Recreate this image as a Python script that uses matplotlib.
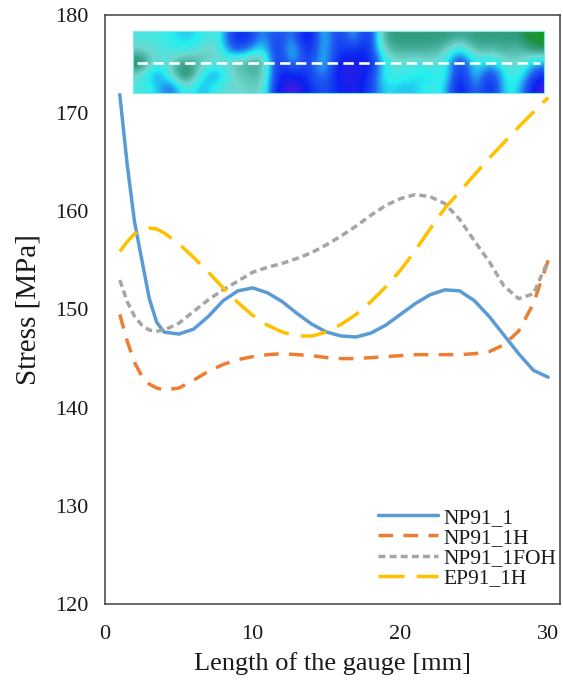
import matplotlib
matplotlib.use('Agg')
import matplotlib.pyplot as plt
from matplotlib.colors import LinearSegmentedColormap
import numpy as np

plt.rcParams['font.family'] = ['Liberation Serif', 'DejaVu Serif']

# ── data (gauge position in mm, stress in MPa)
gauge_mm = [1, 1.5, 2, 2.5, 3, 3.5, 4, 5, 6, 7, 8, 9, 10, 11, 12, 13, 14, 15,
            16, 17, 18, 19, 20, 21, 22, 23, 24, 25, 26, 27, 28, 29, 30]

np91_1 = [171.9, 164.8, 158.9, 155.0, 151.1, 148.7, 147.7, 147.5, 148.0, 149.3,
          150.9, 151.9, 152.2, 151.7, 150.8, 149.6, 148.5, 147.7, 147.3,
          147.2, 147.6, 148.4, 149.5, 150.6, 151.5, 152.0, 151.9, 150.9,
          149.3, 147.4, 145.5, 143.8, 143.1]

np91_1h = [149.5, 146.8, 144.6, 143.2, 142.4, 142.0, 141.8, 142.0, 142.8, 143.7,
           144.4, 144.9, 145.2, 145.4, 145.5, 145.4, 145.3, 145.1, 145.0,
           145.0, 145.1, 145.2, 145.3, 145.4, 145.4, 145.4, 145.4, 145.5,
           145.7, 146.4, 147.8, 150.6, 155.0]

np91_1foh = [153.0, 150.8, 149.3, 148.4, 147.9, 147.8, 147.9, 148.6, 149.8, 151.0,
             152.0, 152.9, 153.8, 154.3, 154.7, 155.2, 155.8, 156.6, 157.5,
             158.5, 159.6, 160.6, 161.3, 161.7, 161.5, 160.8, 159.2, 157.0,
             154.9, 152.4, 151.1, 151.6, 155.0]

ep91_1h = [155.9, 156.9, 157.7, 158.1, 158.3, 158.2, 157.8, 156.7, 155.3, 153.8,
           152.2, 150.7, 149.4, 148.4, 147.7, 147.3, 147.3, 147.7, 148.5,
           149.5, 150.8, 152.3, 154.0, 156.0, 158.2, 160.3, 162.0, 163.7,
           165.4, 167.0, 168.6, 170.1, 171.6]

series_names = ['NP91_1', 'NP91_1H', 'NP91_1FOH', 'EP91_1H']

# stress map of the gauge (rows top->bottom, columns along the gauge);
# 0 = green, 0.5 = cyan, 1 = blue/violet
stress_map = np.array([
    [0.50, 0.50, 0.55, 0.60, 0.55, 0.45, 0.80, 0.85, 0.60, 0.80, 0.60, 1.00, 0.50, 0.85,
     0.55, 0.90, 0.30, 0.30, 0.30, 0.30, 0.30, 0.35, 0.30, 0.30, 0.30, 0.30, 0.05],
    [0.45, 0.48, 0.50, 0.55, 0.45, 0.42, 0.75, 0.70, 0.50, 0.85, 0.50, 0.90, 0.55, 0.80,
     0.80, 0.85, 0.40, 0.35, 0.35, 0.35, 0.40, 0.60, 0.35, 0.40, 0.35, 0.40, 0.30],
    [0.20, 0.50, 0.45, 0.30, 0.40, 0.45, 0.40, 0.35, 0.30, 0.90, 0.55, 0.85, 0.50, 0.90,
     0.85, 0.90, 0.55, 0.45, 0.50, 0.45, 0.50, 0.85, 0.50, 0.60, 0.45, 0.45, 0.60],
    [0.45, 0.70, 0.45, 0.15, 0.55, 0.70, 0.45, 0.40, 0.35, 0.85, 0.85, 0.80, 0.60, 0.90,
     0.90, 0.85, 0.50, 0.50, 0.55, 0.60, 0.45, 0.90, 0.50, 0.85, 0.50, 0.50, 0.80],
    [0.50, 0.55, 0.75, 0.45, 0.65, 0.50, 0.45, 0.45, 0.40, 0.90, 0.95, 0.85, 0.70, 0.85,
     0.90, 0.80, 0.55, 0.60, 0.60, 0.50, 0.55, 0.95, 0.60, 0.90, 0.50, 0.60, 0.95],
])

BLUE = '#5B9BD5'
ORANGE = '#ED7D31'
GREY = '#A5A5A5'
YELLOW = '#FFC000'
TEXT = '#1a1a1a'

fig = plt.figure(figsize=(5.63, 6.84), dpi=100, facecolor='white')
ax = fig.add_axes([105 / 563, 1 - 604 / 684, 455 / 563, 589 / 684])

lw = 2.5
ax.plot(gauge_mm, np91_1, color=BLUE, lw=lw, label=series_names[0],
        solid_capstyle='round', solid_joinstyle='round')
ax.plot(gauge_mm, np91_1h, color=ORANGE, lw=lw, label=series_names[1],
        dashes=(4.2, 3.0))
ax.plot(gauge_mm, np91_1foh, color=GREY, lw=lw, label=series_names[2],
        dashes=(2.0, 1.2))
ax.plot(gauge_mm, ep91_1h, color=YELLOW, lw=lw, label=series_names[3],
        dashes=(7.5, 3.5))

ax.set_xlim(0, 30.8)
ax.set_ylim(120, 180)
ax.set_xticks([0, 10, 20, 30])
ax.set_yticks(range(120, 181, 10))
ax.tick_params(length=0, labelsize=16, colors=TEXT)
ax.tick_params(axis='y', pad=12)
ax.tick_params(axis='x', pad=15)
for sp in ax.spines.values():
    sp.set_color('#404040')
    sp.set_linewidth(1.1)

ax.set_xlabel('Length of the gauge [mm]', fontsize=19, color=TEXT, labelpad=6)
ax.set_ylabel('Stress [MPa]', fontsize=21, color=TEXT, labelpad=10)

leg = ax.legend(loc='lower right', bbox_to_anchor=(1.02, 0.005), frameon=False,
                fontsize=15.5, handlelength=2.8, handletextpad=0.25,
                labelspacing=0.0, borderaxespad=0.2)
for t in leg.get_texts():
    t.set_color(TEXT)

# ── inset: stress map with the measuring line
cmap = LinearSegmentedColormap.from_list('smap', [
    (0.00, '#0aa51a'), (0.20, '#1f9040'), (0.32, '#36a088'), (0.45, '#6fd8d0'),
    (0.55, '#25f0f0'), (0.70, '#2060f0'), (0.85, '#0a20f0'), (1.00, '#6a18d8')])
ins = fig.add_axes([133 / 563, 1 - 93 / 684, 411 / 563, 62 / 684])
ins.imshow(stress_map, cmap=cmap, vmin=0, vmax=1, aspect='auto',
           interpolation='bicubic', extent=(0, 1, 0, 1))
ins.plot([0.01, 0.99], [0.48, 0.48], color='white', lw=1.9, dashes=(4, 2))
ins.set_xlim(0, 1)
ins.set_ylim(0, 1)
ins.set_xticks([])
ins.set_yticks([])
for sp in ins.spines.values():
    sp.set_color('#7fe8e8')
    sp.set_linewidth(0.8)

fig.savefig('out.png', dpi=100, facecolor='white')
